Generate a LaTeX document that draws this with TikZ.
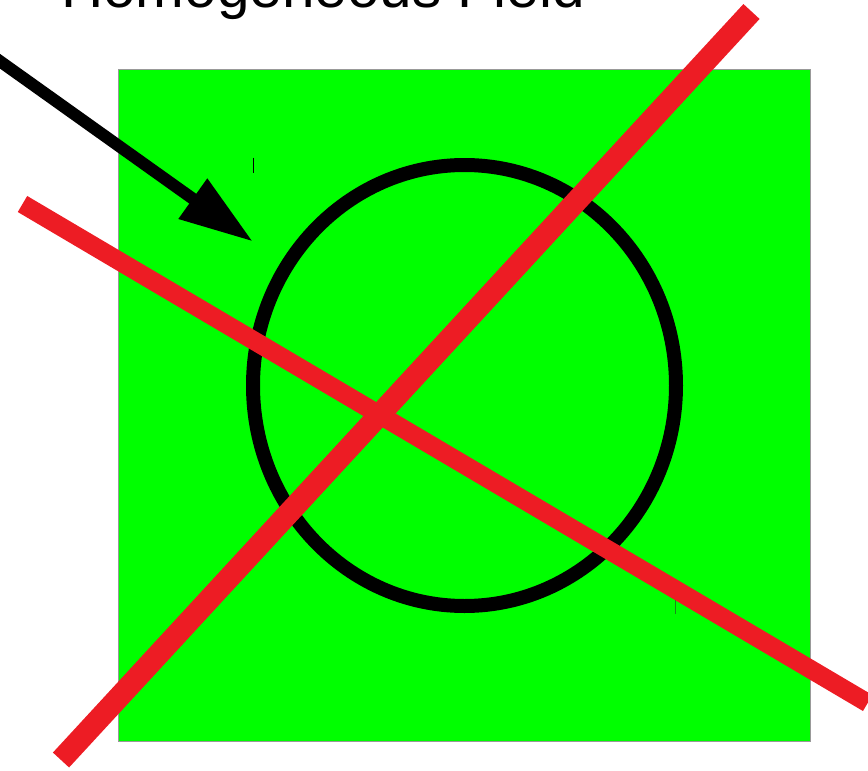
\documentclass[tikz,border=0pt]{standalone}
\usepackage{fontspec}
\setmainfont{Liberation Sans}
\definecolor{fieldgreen}{HTML}{00FF00}
\definecolor{crossred}{HTML}{ED1C24}
\definecolor{tickgreen}{HTML}{1A8A1A}
\begin{document}
\begin{tikzpicture}[x=1pt,y=-1pt,
  field/.style={fill=fieldgreen,draw=gray!80,line width=1pt},
  ring/.style={draw=black,line width=14pt},
  crossline/.style={draw=crossred,line width=20pt,line cap=butt},
  shaft/.style={draw=black,line width=12pt},
  headtri/.style={fill=black},
  tickmark/.style={line width=1.2pt}]
\useasboundingbox (0,0) rectangle (868,771);
\node[anchor=base west,inner sep=0pt,font=\fontsize{58.5}{62}\selectfont] (title) at (61,8) {Homogeneous Field};
\path[field] (118.5,69) rectangle (810,741);
\coordinate (c) at (464.5,385.5);
\draw[ring] (c) ellipse [x radius=211.5, y radius=220.5];
\draw[tickmark,black] (253.3,157.5) -- (253.3,172.5);
\draw[tickmark,tickgreen] (675.8,600) -- (675.8,614);
\coordinate (s0) at (-20,47);
\coordinate (s1) at (196,201);
\coordinate (tip) at (251.7,240.7);
\coordinate (h1) at (207.3,178.3);
\coordinate (h2) at (178.3,219);
\draw[shaft] (s0) -- (s1);
\fill[headtri] (tip) -- (h1) -- (h2) -- cycle;
\coordinate (a1) at (61,760);
\coordinate (a2) at (751.5,11.5);
\coordinate (b1) at (22.5,204);
\coordinate (b2) at (867.7,703);
\draw[crossline,line width=18.6pt] (b1) -- (b2);
\draw[crossline,line width=22pt] (a1) -- (a2);
\end{tikzpicture}
\end{document}
